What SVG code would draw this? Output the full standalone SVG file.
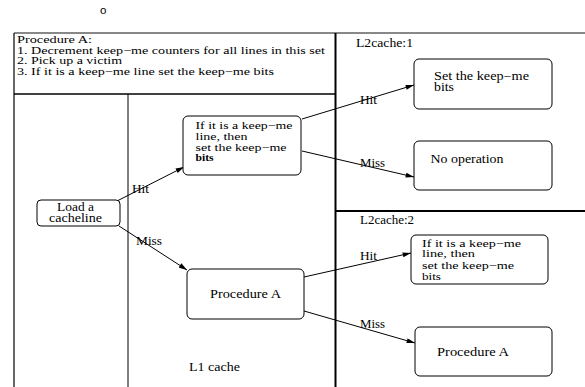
<svg xmlns="http://www.w3.org/2000/svg" width="585" height="387" viewBox="0 0 585 387">
<defs>
<style>
.t{font-family:"Liberation Serif","Times New Roman",serif;font-size:11.5px;fill:#000}
.s{font-size:10.8px}
.b{fill:#fff;stroke:#000;stroke-width:1}
.c{stroke:#000;stroke-width:1;fill:none;marker-end:url(#ah)}
.ln{stroke:#000;fill:none}
</style>
<marker id="ah" viewBox="0 0 10 6" refX="10" refY="3" markerWidth="9" markerHeight="5" markerUnits="userSpaceOnUse" orient="auto">
<path d="M0,0 L10,3 L0,6 Z" fill="#000"/>
</marker>
</defs>
<rect width="585" height="387" fill="#fff"/>
<text x="100" y="14" style="font-family:'Liberation Sans',Arial,sans-serif;font-size:11.5px">o</text>
<g id="frame">
<line x1="14" y1="33" x2="585" y2="33" stroke="#888" stroke-width="2"/>
<line class="ln" x1="14" y1="33" x2="14" y2="387" stroke-width="1.2"/>
<line class="ln" x1="128" y1="94" x2="128" y2="387" stroke-width="1"/>
<line class="ln" x1="14" y1="94" x2="335" y2="94" stroke-width="1.3"/>
<line class="ln" x1="335.5" y1="33" x2="335.5" y2="387" stroke-width="2"/>
<line class="ln" x1="335" y1="211" x2="585" y2="211" stroke-width="2"/>
</g>
<g id="procedure-text">
<text class="t s" x="17" y="43" textLength="75" lengthAdjust="spacingAndGlyphs">Procedure A:</text>
<text class="t s" x="17" y="53.5" textLength="308" lengthAdjust="spacingAndGlyphs">1. Decrement keep−me counters for all lines in this set</text>
<text class="t s" x="17" y="64" textLength="105" lengthAdjust="spacingAndGlyphs">2. Pick up a victim</text>
<text class="t s" x="17" y="74.5" textLength="257" lengthAdjust="spacingAndGlyphs">3. If it is a keep−me line set the keep−me bits</text>
</g>
<g id="labels">
<text class="t" x="356" y="47" textLength="57" lengthAdjust="spacingAndGlyphs">L2cache:1</text>
<text class="t" x="360" y="224" textLength="54" lengthAdjust="spacingAndGlyphs">L2cache:2</text>
<text class="t" x="189" y="371" textLength="51" lengthAdjust="spacingAndGlyphs">L1 cache</text>
</g>
<g id="connectors">
<line class="c" x1="117" y1="201" x2="184" y2="167"/>
<line class="c" x1="119" y1="226" x2="187" y2="270"/>
<line class="c" x1="302" y1="119" x2="414" y2="85"/>
<line class="c" x1="302" y1="151" x2="414" y2="177"/>
<line class="c" x1="304" y1="277" x2="411" y2="253"/>
<line class="c" x1="304" y1="311" x2="415" y2="343"/>
<text class="t" x="132" y="193" textLength="17" lengthAdjust="spacingAndGlyphs">Hit</text>
<text class="t" x="136" y="245" textLength="26" lengthAdjust="spacingAndGlyphs">Miss</text>
<text class="t" x="360" y="104" textLength="17" lengthAdjust="spacingAndGlyphs">Hit</text>
<text class="t" x="360" y="167" textLength="25" lengthAdjust="spacingAndGlyphs">Miss</text>
<text class="t" x="360" y="260" textLength="17" lengthAdjust="spacingAndGlyphs">Hit</text>
<text class="t" x="360" y="328" textLength="25" lengthAdjust="spacingAndGlyphs">Miss</text>
</g>
<g id="load">
<rect class="b" x="37" y="200" width="83" height="26" rx="4"/>
<text class="t" x="57" y="211" textLength="37" lengthAdjust="spacingAndGlyphs">Load a</text>
<text class="t" x="49" y="222" textLength="53" lengthAdjust="spacingAndGlyphs">cacheline</text>
</g>
<g id="l1-keepme">
<rect class="b" x="183" y="116" width="118" height="59" rx="5"/>
<text class="t s" x="195.5" y="129" textLength="97" lengthAdjust="spacingAndGlyphs">If it is a keep−me</text>
<text class="t s" x="195.5" y="140" textLength="52" lengthAdjust="spacingAndGlyphs">line, then</text>
<text class="t s" x="195.5" y="150.5" textLength="91" lengthAdjust="spacingAndGlyphs">set the keep−me</text>
<text class="t s" x="195.5" y="161" font-weight="bold" textLength="18" lengthAdjust="spacingAndGlyphs">bits</text>
</g>
<g id="l1-procA">
<rect class="b" x="187" y="269" width="117" height="50" rx="5"/>
<text class="t" x="210" y="298" textLength="71" lengthAdjust="spacingAndGlyphs">Procedure A</text>
</g>
<g id="l2a-set">
<rect class="b" x="414" y="59" width="138" height="50" rx="5"/>
<text class="t" x="434" y="80" textLength="95" lengthAdjust="spacingAndGlyphs">Set the keep−me</text>
<text class="t" x="434" y="91" textLength="20" lengthAdjust="spacingAndGlyphs">bits</text>
</g>
<g id="l2a-noop">
<rect class="b" x="414" y="141" width="138" height="49" rx="5"/>
<text class="t" x="430.5" y="163" textLength="73" lengthAdjust="spacingAndGlyphs">No operation</text>
</g>
<g id="l2b-keepme">
<rect class="b" x="411" y="235" width="137" height="49" rx="5"/>
<text class="t s" x="422" y="246.5" textLength="99" lengthAdjust="spacingAndGlyphs">If it is a keep−me</text>
<text class="t s" x="422" y="257" textLength="53" lengthAdjust="spacingAndGlyphs">line, then</text>
<text class="t s" x="422" y="268.5" textLength="92" lengthAdjust="spacingAndGlyphs">set the keep−me</text>
<text class="t s" x="422" y="280" textLength="19" lengthAdjust="spacingAndGlyphs">bits</text>
</g>
<g id="l2b-procA">
<rect class="b" x="415" y="327" width="137" height="49" rx="5"/>
<text class="t" x="437" y="356" textLength="72" lengthAdjust="spacingAndGlyphs">Procedure A</text>
</g>
</svg>
